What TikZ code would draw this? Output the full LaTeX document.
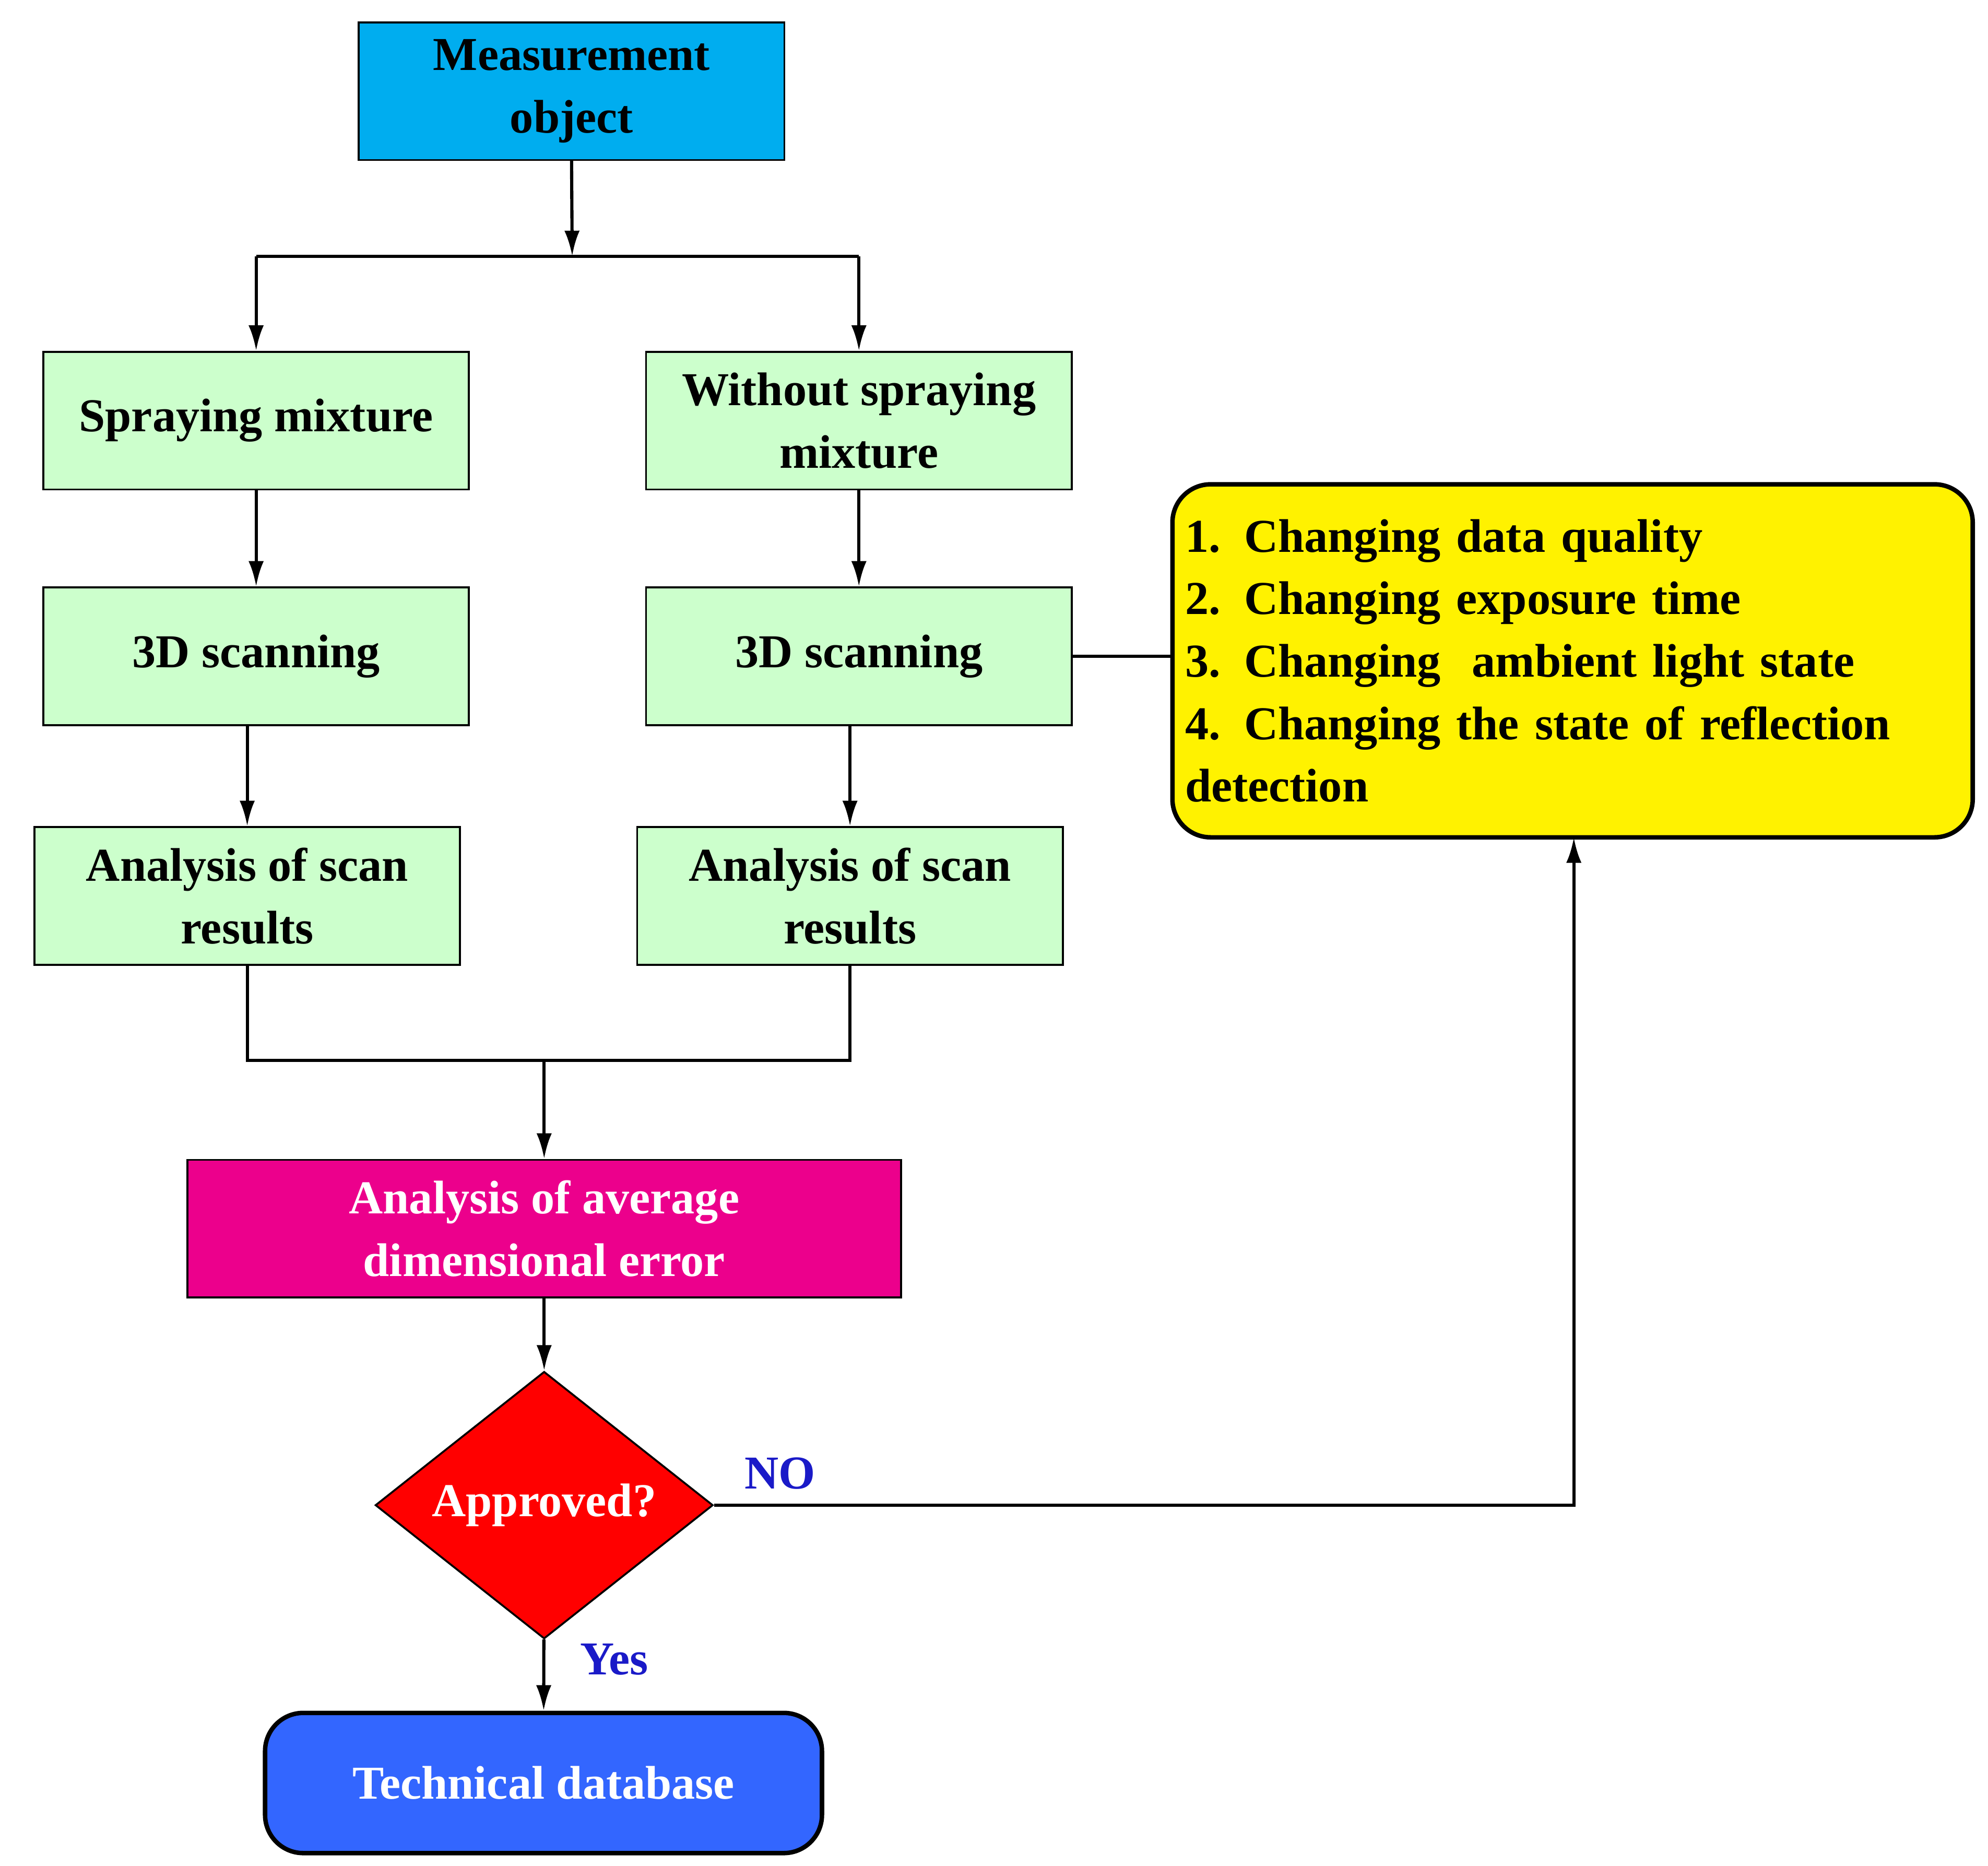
\documentclass[tikz,border=0pt]{standalone}
\usepackage{fontspec}
\setmainfont{Liberation Serif}
\usetikzlibrary{shapes.geometric,arrows.meta}
\definecolor{lgreen}{HTML}{CCFFCC}
\definecolor{dbblue}{HTML}{3366FF}
\definecolor{txtblue}{HTML}{1A1AC8}
\begin{document}
\begin{tikzpicture}[x=1pt,y=-1pt,
  every node/.style={font=\fontsize{37}{49}\selectfont\bfseries, align=center, inner sep=0pt},
  box/.style={draw, line width=1.5pt, minimum width=334pt, minimum height=108pt, fill=lgreen},
  ln/.style={line width=2.5pt},
  ar/.style={ln, -{Latex[length=20pt,width=12pt]}}]
\useasboundingbox (0,0) rectangle (1560,1464);
\node[box, fill=cyan] (mo) at (448.5,71.5) {Measurement\\object};
\node[box] (sp) at (201,330) {Spraying mixture};
\node[box] (ws) at (674,330) {Without spraying\\mixture};
\node[box] (s1) at (201,515) {3D scanning};
\node[box] (s2) at (674,515) {3D scanning};
\node[box] (a1) at (194,703) {Analysis of scan\\results};
\node[box] (a2) at (667,703) {Analysis of scan\\results};
\node[box, fill=magenta, minimum width=560pt, text=white] (ae) at (427,964) {Analysis of average\\dimensional error};
\node[diamond, draw, line width=1.5pt, fill=red, minimum width=265pt, minimum height=173pt, text=white] (ap) at (427,1181) {Approved?};
\node[draw, line width=3.5pt, rounded corners=30pt, fill=dbblue, minimum width=437pt, minimum height=110pt, text=white] (db) at (426.5,1399) {Technical database};
\node[draw, line width=3.5pt, rounded corners=30pt, fill=yellow, minimum width=628pt, minimum height=277pt, align=left, text width=608pt] (ye) at (1234,518.5)
 {1. Changing data quality\\2. Changing exposure time\\3. Changing\ \ ambient light state\\4. Changing the state of reflection\\detection};
\coordinate (br) at (449,201);
\coordinate (mg) at (427,832);
\draw[ar] (mo.south) -- (br);
\draw[ln] (br) -- (201,201); \draw[ln] (br) -- (674,201);
\draw[ar] (201,201) -- (sp.north);
\draw[ar] (674,201) -- (ws.north);
\draw[ar] (sp) -- (s1);
\draw[ar] (ws) -- (s2);
\draw[ar] (194,569) -- (a1.north);
\draw[ar] (667,569) -- (a2.north);
\draw[ln] (a1.south) -- (194,832) -- (667,832) -- (a2.south);
\draw[ar] (mg) -- (ae.north);
\draw[ar] (ae) -- (ap);
\draw[ar] (ap) -- (db);
\draw[ar] (ap.east) -- (1235,1181) -- (1235,657);
\draw[ln] (s2.east) -- (ye.west|-s2.east);
\node[text=txtblue] at (612,1156) {NO};
\node[text=txtblue] at (482,1302) {Yes};
\end{tikzpicture}
\end{document}
